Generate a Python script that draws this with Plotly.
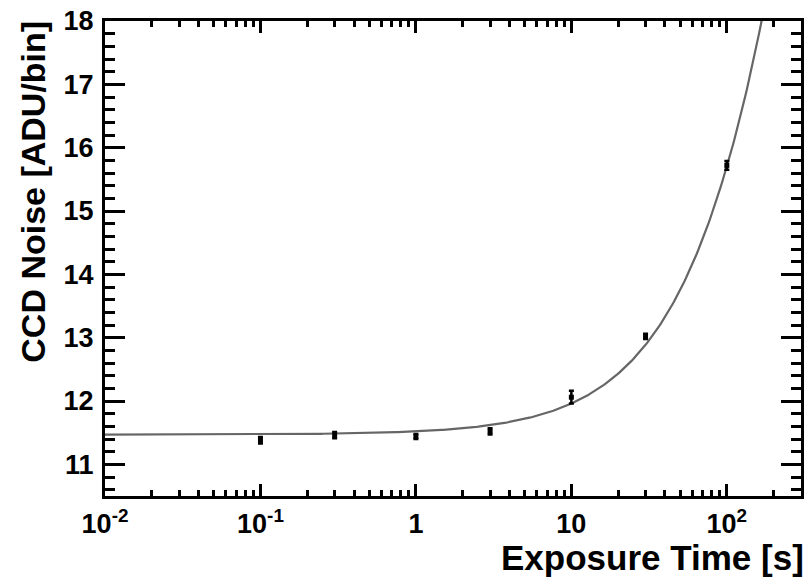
import numpy as np
import plotly.graph_objects as go

# Data
exposure_s = [0.1, 0.3, 1, 3, 10, 30, 100]
noise_adu = [11.38, 11.46, 11.44, 11.52, 12.06, 13.02, 15.72]
noise_err = [0.05, 0.05, 0.04, 0.05, 0.10, 0.04, 0.07]

# Fit parameters (model: sqrt(read^2 + dark*t))
read_noise = 11.47
dark_coef = 1.15

x_tickvals = [0.01, 0.1, 1, 10, 100]
x_ticktext = ["10<sup>-2</sup>", "10<sup>-1</sup>", "1", "10", "10<sup>2</sup>"]
x_minor = [m * 10.0 ** d for d in range(-2, 3) for m in range(2, 10)]

t_fit = np.logspace(-2, np.log10(300), 400)
y_fit = np.sqrt(read_noise ** 2 + dark_coef * t_fit)

FONT = "Liberation Sans"

fig = go.Figure()
fig.add_trace(go.Scatter(
    x=t_fit, y=y_fit, mode="lines",
    line=dict(color="#666666", width=2.2),
    hoverinfo="skip", showlegend=False,
))
fig.add_trace(go.Scatter(
    x=exposure_s, y=noise_adu, mode="markers",
    marker=dict(symbol="square", size=5, color="black"),
    error_y=dict(type="data", array=noise_err, color="black", thickness=2.5, width=2.5),
    showlegend=False,
))

fig.update_layout(
    width=807, height=578,
    margin=dict(l=105, r=3, t=21, b=82),
    paper_bgcolor="white", plot_bgcolor="white",
    font=dict(family=FONT, color="black"),
    xaxis=dict(
        type="log", range=[-2, np.log10(300)],
        tickmode="array", tickvals=x_tickvals, ticktext=x_ticktext,
        ticks="inside", ticklen=12, tickwidth=3, tickcolor="black",
        minor=dict(tickmode="array", tickvals=x_minor, ticks="inside",
                   ticklen=6, tickwidth=2.5, tickcolor="black", showgrid=False),
        showline=True, linewidth=3, linecolor="black", mirror="ticks",
        showgrid=False, zeroline=False, ticklabelstandoff=2,
        tickfont=dict(family=FONT, size=27, weight="bold"),
    ),
    yaxis=dict(
        range=[10.5, 18], tickmode="linear", tick0=11, dtick=1,
        ticks="inside", ticklen=20, tickwidth=3, tickcolor="black",
        minor=dict(dtick=0.2, ticks="inside", ticklen=10, tickwidth=2.5,
                   tickcolor="black", showgrid=False),
        showline=True, linewidth=3, linecolor="black", mirror="ticks",
        showgrid=False, zeroline=False, ticklabelstandoff=3,
        tickfont=dict(family=FONT, size=27, weight="bold"),
    ),
    annotations=[
        dict(text="Exposure Time [s]", xref="paper", yref="paper",
             x=1.0, y=-0.129, xanchor="right", yanchor="middle", xshift=5,
             showarrow=False, font=dict(family=FONT, size=35, weight="bold")),
        dict(text="CCD Noise [ADU/bin]", xref="paper", yref="paper",
             x=-0.104, y=1.004, xanchor="center", yanchor="top", textangle=-90,
             showarrow=False, font=dict(family=FONT, size=34, weight="bold")),
    ],
)

fig.write_html("out.html")
